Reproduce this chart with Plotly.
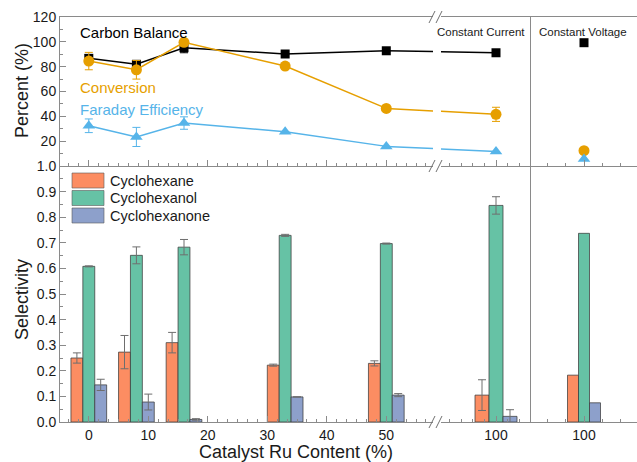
import plotly.graph_objects as go

# ---------------- data ----------------
ru_low = [0, 8, 16, 33, 50]          # Ru content (%) before the axis break
ru_cc = [100]                         # constant current, 100 % Ru
ru_cv = [100]                         # constant voltage, 100 % Ru

carbon_low = [86.7, 81.9, 95.2, 90.2, 92.8]
carbon_low_err = [3, 3, 4, 0, 0]
carbon_cc = [91.2]
carbon_cv = [99.3]

conversion_low = [84.5, 77.5, 99.6, 80.5, 46.4]
conversion_low_err = [7, 7.5, 0, 0, 0]
conversion_cc = [41.6]
conversion_cc_err = [5.7]
conversion_cv = [12.3]

faraday_low = [32.4, 23.4, 34.6, 27.6, 15.8]
faraday_low_err = [5.5, 7.7, 5, 0, 0]
faraday_cc = [11.6]
faraday_cv = [5.6]

hexane_low = [0.250, 0.273, 0.310, 0.222, 0.229]
hexane_low_err = [0.020, 0.065, 0.040, 0.004, 0.010]
hexane_cc = [0.105]
hexane_cc_err = [0.060]
hexane_cv = [0.183]

hexanol_low = [0.608, 0.651, 0.683, 0.729, 0.697]
hexanol_low_err = [0.002, 0.033, 0.030, 0.004, 0.002]
hexanol_cc = [0.846]
hexanol_cc_err = [0.034]
hexanol_cv = [0.737]

hexanone_low = [0.145, 0.078, 0.010, 0.098, 0.105]
hexanone_low_err = [0.022, 0.031, 0.003, 0.0, 0.006]
hexanone_cc = [0.022]
hexanone_cc_err = [0.026]
hexanone_cv = [0.075]

product_names = ["Cyclohexane", "Cyclohexanol", "Cyclohexanone"]
product_colors = ["#FC8D62", "#66C2A5", "#8DA0CB"]

# ---------------- geometry (pixels) ----------------
W, H = 637, 462
PL, PR, PT, PB = 60, 637, 17, 422          # plot area
MID = 166                                  # boundary between panels
A_PX = (60, 433); A_REF = (0, 88.8); A_PPU = 5.95
B_PX = (441, 531); B_REF = (100, 496); B_PPU = 7.0
C_PX = (531, 637); C_REF = (100, 584); C_PPU = 5.5


def fx(px):
    return (px - PL) / (PR - PL)


def fy(py):
    return (PB - py) / (PB - PT)


def axis_range(span, ref, ppu):
    return [ref[0] + (span[0] - ref[1]) / ppu, ref[0] + (span[1] - ref[1]) / ppu]


def to_px(val, ref, ppu):
    return ref[1] + (val - ref[0]) * ppu


ymid = fy(MID)
dom_a = [fx(A_PX[0]), fx(A_PX[1])]
dom_b = [fx(B_PX[0]), fx(B_PX[1])]
dom_c = [fx(C_PX[0]), fx(C_PX[1])]

# connector scale joining the last low-Ru point to the constant-current point
p_from = to_px(ru_low[-1], A_REF, A_PPU)
p_to = to_px(ru_cc[0], B_REF, B_PPU)
CONN_PPU = (p_to - p_from) / (ru_cc[0] - ru_low[-1])
CONN_REF = (ru_low[-1], p_from)

FONT = "Liberation Sans, Arial, sans-serif"
AX_COL = "#8a8a8a"
TXT = "#1a1a1a"
BLACK = "#000000"
ORANGE = "#E69F00"
BLUE = "#56B4E9"
BAR_EDGE = "rgba(60,60,60,0.75)"
ERR_COL = "#6e6e6e"

fig = go.Figure()

# ---------------- selectivity bars ----------------
bar_sets = [
    (hexane_low, hexane_low_err, hexane_cc, hexane_cc_err, hexane_cv, -3),
    (hexanol_low, hexanol_low_err, hexanol_cc, hexanol_cc_err, hexanol_cv, -1),
    (hexanone_low, hexanone_low_err, hexanone_cc, hexanone_cc_err, hexanone_cv, 1),
]
for (low, low_err, cc, cc_err, cv, off), name, col in zip(bar_sets, product_names, product_colors):
    common = dict(marker=dict(color=col, line=dict(color=BAR_EDGE, width=1)),
                  width=2, offset=off, showlegend=False, name=name)
    eb = dict(type="data", color=ERR_COL, thickness=1, width=4)
    fig.add_trace(go.Bar(x=ru_low, y=low, error_y=dict(array=low_err, **eb),
                         xaxis="x", yaxis="y", **common))
    fig.add_trace(go.Bar(x=ru_cc, y=cc, error_y=dict(array=cc_err, **eb),
                         xaxis="x2", yaxis="y2", **common))
    fig.add_trace(go.Bar(x=ru_cv, y=cv, xaxis="x3", yaxis="y3", **common))

# ---------------- percent panel ----------------
series = [
    ("Carbon Balance", carbon_low, carbon_low_err, carbon_cc, [0], carbon_cv,
     BLACK, dict(symbol="square", size=9)),
    ("Conversion", conversion_low, conversion_low_err, conversion_cc, conversion_cc_err, conversion_cv,
     ORANGE, dict(symbol="circle", size=11)),
    ("Faraday Efficiency", faraday_low, faraday_low_err, faraday_cc, [0], faraday_cv,
     BLUE, dict(symbol="triangle-up", size=11)),
]
for name, low, low_err, cc, cc_err, cv, col, mk in series:
    eb = dict(type="data", color=col, thickness=1, width=4)
    # cross-break connector, drawn on both sides of the break
    for xa in ("x7", "x8"):
        fig.add_trace(go.Scatter(x=[ru_low[-1], ru_cc[0]], y=[low[-1], cc[0]], mode="lines",
                                 line=dict(color=col, width=1.5), xaxis=xa,
                                 yaxis="y4" if xa == "x7" else "y5",
                                 showlegend=False, hoverinfo="skip"))
    fig.add_trace(go.Scatter(x=ru_low, y=low, mode="lines+markers", name=name,
                             line=dict(color=col, width=1.5), marker=dict(color=col, **mk),
                             error_y=dict(array=low_err, **eb),
                             xaxis="x4", yaxis="y4", showlegend=False))
    fig.add_trace(go.Scatter(x=ru_cc, y=cc, mode="markers", name=name,
                             marker=dict(color=col, **mk), error_y=dict(array=cc_err, **eb),
                             xaxis="x5", yaxis="y5", showlegend=False))
    fig.add_trace(go.Scatter(x=ru_cv, y=cv, mode="markers", name=name,
                             marker=dict(color=col, **mk),
                             xaxis="x6", yaxis="y6", showlegend=False))

# ---------------- axes ----------------
tickfont = dict(family=FONT, size=14, color=TXT)
xbase = dict(showline=True, linecolor=AX_COL, linewidth=1, ticks="inside", tickcolor=AX_COL,
             ticklen=6, tickwidth=1, showgrid=False, zeroline=False, tickfont=tickfont,
             fixedrange=True)


def minor(step):
    return dict(ticks="inside", dtick=step, tick0=0, ticklen=3, tickcolor=AX_COL, showgrid=False)


layout_axes = dict(
    xaxis=dict(xbase, domain=dom_a, anchor="y", range=axis_range(A_PX, A_REF, A_PPU),
               tick0=0, dtick=10, minor=minor(10 / 6)),
    xaxis2=dict(xbase, domain=dom_b, anchor="y2", range=axis_range(B_PX, B_REF, B_PPU),
                tick0=0, dtick=10, minor=minor(10 / 6)),
    xaxis3=dict(xbase, domain=dom_c, anchor="y3", range=axis_range(C_PX, C_REF, C_PPU),
                tick0=0, dtick=20, minor=minor(20 / 6)),
    xaxis4=dict(xbase, domain=dom_a, anchor="y4", range=axis_range(A_PX, A_REF, A_PPU),
                tick0=0, dtick=10, minor=minor(10 / 6), showticklabels=False, mirror=True),
    xaxis5=dict(xbase, domain=dom_b, anchor="y5", range=axis_range(B_PX, B_REF, B_PPU),
                tick0=0, dtick=10, minor=minor(10 / 6), showticklabels=False, mirror=True),
    xaxis6=dict(xbase, domain=dom_c, anchor="y6", range=axis_range(C_PX, C_REF, C_PPU),
                tick0=0, dtick=20, minor=minor(20 / 6), showticklabels=False, mirror=True),
    xaxis7=dict(overlaying="x4", range=axis_range(A_PX, CONN_REF, CONN_PPU), visible=False,
                fixedrange=True),
    xaxis8=dict(overlaying="x5", range=axis_range(B_PX, CONN_REF, CONN_PPU), visible=False,
                fixedrange=True),
    yaxis=dict(domain=[0, ymid], anchor="x", range=[0, 1.0], showline=True, linecolor=AX_COL,
               ticks="inside", tickcolor=AX_COL, ticklen=6, dtick=0.1, tick0=0, tickformat=".1f",
               minor=dict(ticks="inside", dtick=0.05, ticklen=3, tickcolor=AX_COL),
               showgrid=False, zeroline=False, tickfont=tickfont, fixedrange=True),
    yaxis2=dict(domain=[0, ymid], anchor="x2", range=[0, 1.0], visible=False, fixedrange=True),
    yaxis3=dict(domain=[0, ymid], anchor="x3", range=[0, 1.0], showline=True, linecolor=AX_COL,
                ticks="", showticklabels=False, showgrid=False, zeroline=False, fixedrange=True),
    yaxis4=dict(domain=[ymid, 1], anchor="x4", range=[0, 120], showline=True, linecolor=AX_COL,
                ticks="inside", tickcolor=AX_COL, ticklen=6, tickvals=[20, 40, 60, 80, 100, 120],
                minor=dict(ticks="inside", dtick=10, tick0=0, ticklen=3, tickcolor=AX_COL),
                showgrid=False, zeroline=False, tickfont=tickfont, fixedrange=True),
    yaxis5=dict(domain=[ymid, 1], anchor="x5", range=[0, 120], visible=False, fixedrange=True),
    yaxis6=dict(domain=[ymid, 1], anchor="x6", range=[0, 120], showline=True, linecolor=AX_COL,
                ticks="", showticklabels=False, showgrid=False, zeroline=False, fixedrange=True),
)

# ---------------- annotations ----------------
ann = []


def text(s, px, py, size, color=TXT, xanchor="left", angle=0):
    ann.append(dict(text=s, x=fx(px), y=fy(py), xref="paper", yref="paper", showarrow=False,
                    xanchor=xanchor, yanchor="middle", textangle=angle,
                    font=dict(family=FONT, size=size, color=color)))


text("Carbon Balance", 78, 32, 15, BLACK)
text("Conversion", 78, 88, 15, ORANGE)
text("Faraday Efficiency", 78, 109, 15, BLUE)
text("Constant Current", 435, 32, 11.5, TXT)
text("Constant Voltage", 537, 32, 11.5, TXT)
text("Percent (%)", 22, 91, 18, TXT, xanchor="center", angle=-90)
text("Selectivity", 22, 300, 18, TXT, xanchor="center", angle=-90)
text("Catalyst Ru Content (%)", 296, 452, 18, TXT, xanchor="center")

# legend drawn as swatches + labels
shapes = []
legend_rows = [180.5, 198, 215.5]
for name, col, cy in zip(product_names, product_colors, legend_rows):
    shapes.append(dict(type="rect", xref="paper", yref="paper",
                       x0=fx(72), x1=fx(104), y0=fy(cy + 7.5), y1=fy(cy - 7.5),
                       fillcolor=col, line=dict(color="rgba(90,90,90,0.6)", width=1)))
    text(name, 108, cy, 14.5, TXT)

# axis-break marks
for yb in (PT, MID, PB):
    for dx in (0, 7):
        shapes.append(dict(type="line", xref="paper", yref="paper",
                           x0=fx(429 + dx), y0=fy(yb + 6), x1=fx(435 + dx), y1=fy(yb - 6),
                           line=dict(color="#707070", width=1)))

fig.update_layout(
    width=W, height=H,
    margin=dict(l=PL, r=W - PR, t=PT, b=H - PB, pad=0),
    paper_bgcolor="white", plot_bgcolor="rgba(0,0,0,0)",
    barmode="overlay", showlegend=False,
    font=dict(family=FONT, color=TXT),
    annotations=ann, shapes=shapes,
    **layout_axes,
)

fig.write_html("out.html", config={"displayModeBar": False})
